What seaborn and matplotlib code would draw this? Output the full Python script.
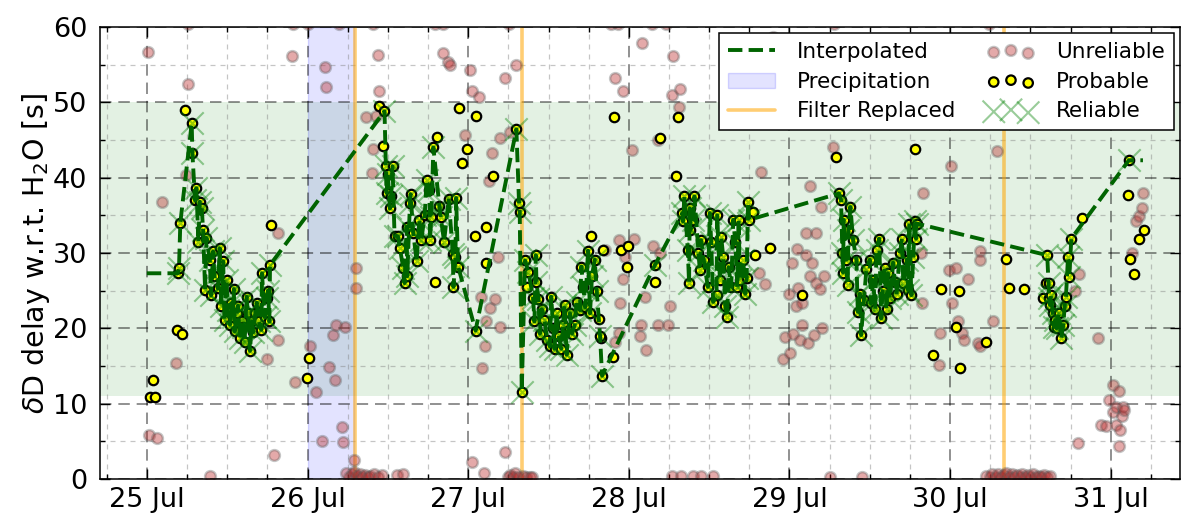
import numpy as np
import pandas as pd
import matplotlib
matplotlib.use("Agg")
import matplotlib.pyplot as plt
import matplotlib.dates as mdates
import seaborn as sns

# ---------------------------------------------------------------------------
# Data: delay of the deuterium signal relative to H2O, hours after 25 Jul 00:00
# ---------------------------------------------------------------------------
START = pd.Timestamp("2016-07-25 00:00")

reliable_hours = [
    4.6, 4.8, 5.0, 6.7, 6.8, 7.2, 7.4, 7.7, 7.9, 8.2, 8.4, 8.7, 8.9, 9.4, 9.6,
    9.9, 10.1, 10.6, 10.9, 11.1, 11.4, 11.6, 11.9, 12.1, 12.4, 12.6, 12.8, 13.0,
    13.1, 13.4, 13.6, 13.9, 14.2, 14.4, 14.6, 14.9, 15.1, 15.4, 15.7, 15.9, 16.2,
    16.4, 16.7, 17.1, 17.2, 17.6, 17.9, 18.1, 18.3, 18.4,
    35.5, 35.7, 35.8, 36.0, 36.3, 36.5, 36.7, 37.0, 37.5, 37.8, 38.3, 38.5, 38.8,
    38.9, 39.3, 39.4, 39.8, 40.3, 40.7, 41.0, 41.5, 41.8, 42.2, 42.3, 42.5, 42.8,
    43.7, 43.9, 44.4, 45.1, 45.7, 45.8, 46.1, 46.2, 46.5,
    49.1, 55.2, 55.6, 55.7, 56.0,
    56.5, 57.0, 57.7, 57.9, 58.1, 58.2, 58.5, 58.7, 59.0, 59.4, 59.8, 60.2, 60.4,
    60.7, 60.9, 61.2, 61.5, 61.9, 62.2, 62.4, 62.7, 63.0, 63.2, 63.5, 63.9, 64.2,
    64.7, 64.9, 65.2, 65.5, 65.9, 66.2, 66.5, 66.9, 67.2, 67.7, 68.0,
    75.9,
    80.0, 80.1, 80.3, 80.8, 81.0, 81.1, 81.2, 81.6, 81.8, 82.4, 82.6, 82.8, 83.2,
    83.8, 84.1, 84.3, 84.6, 85.1, 85.2, 85.6, 85.8, 86.1, 86.4, 86.7, 86.9, 87.3,
    87.6, 87.9, 88.2, 88.4, 88.6, 89.1, 89.4, 89.6, 89.8, 90.0,
    103.4, 103.7, 103.9, 104.0, 104.1, 104.4, 104.7, 104.8, 105.1, 105.5, 106.0,
    106.2, 106.5, 106.7, 107.1, 107.5, 108.0, 108.2, 108.5, 108.8, 109.0, 109.4,
    109.7, 109.9, 110.2, 110.5, 110.7, 111.0, 111.5, 111.7, 112.0, 112.5, 112.8,
    113.0, 113.5, 113.7, 113.9, 114.2, 114.5, 114.7, 114.9, 115.0,
    134.5, 134.7, 134.8, 134.9, 135.1, 135.3, 135.5, 135.7, 135.9, 136.2, 136.6,
    136.9, 137.1, 137.3, 137.6, 137.8, 138.1,
    146.7,
]
reliable_delay = [
    27.3, 28.0, 34.0, 47.2, 43.3, 37.0, 38.6, 31.5, 36.8, 36.0, 33.0, 25.1, 32.0,
    29.1, 24.4, 30.2, 26.9, 25.3, 30.6, 23.0, 28.9, 21.1, 26.4, 22.4, 20.5, 23.3,
    21.5, 25.2, 19.6, 22.0, 23.0, 18.7, 21.0, 20.2, 18.2, 24.2, 22.0, 17.0, 20.9,
    19.5, 22.0, 23.4, 21.0, 19.8, 27.3, 21.5, 24.0, 25.0, 20.9, 28.4,
    48.8, 41.5, 38.0, 40.5, 35.9, 37.5, 41.5, 32.3, 32.2, 30.6, 28.0, 26.0, 33.5,
    26.9, 36.6, 37.8, 32.6, 28.9, 34.4, 31.7, 35.0, 39.7, 38.4, 31.7, 34.8, 44.0,
    36.2, 34.8, 31.5, 37.2, 29.9, 25.5, 29.4, 37.3, 28.2,
    19.7, 46.4, 36.6, 35.5, 11.6,
    29.0, 27.5, 24.0, 20.9, 29.7, 26.2, 23.9, 19.3, 22.5, 21.1, 18.5, 17.6, 24.2,
    20.0, 17.3, 22.0, 19.0, 17.3, 20.5, 23.1, 16.5, 19.8, 22.0, 19.3, 20.4, 23.5,
    22.4, 28.2, 25.5, 22.8, 30.3, 22.0, 27.0, 29.1, 25.0, 19.0, 13.7,
    28.4,
    35.3, 34.2, 37.5, 30.4, 26.0, 35.9, 33.1, 34.4, 37.5, 30.0, 27.7, 31.7, 29.0,
    25.5, 35.3, 31.5, 23.5, 24.4, 35.0, 26.4, 32.1, 29.5, 23.0, 21.5, 28.1, 25.5,
    34.4, 31.4, 25.5, 34.4, 26.4, 29.0, 24.6, 26.7, 36.7, 34.4,
    37.9, 37.0, 30.0, 27.4, 34.4, 29.0, 25.8, 33.0, 36.1, 31.7, 29.1, 22.2, 24.6,
    19.1, 23.7, 27.9, 29.1, 23.3, 26.4, 22.5, 30.4, 31.9, 21.3, 25.0, 28.0, 22.5,
    27.3, 24.0, 28.7, 26.1, 24.5, 30.0, 31.9, 26.0, 29.1, 25.1, 33.9, 24.4, 29.5,
    34.2, 31.9, 33.9,
    29.7, 26.0, 24.0, 23.1, 24.4, 22.0, 20.2, 21.1, 20.0, 22.0, 18.7, 20.4, 22.9,
    24.2, 29.4, 26.8, 31.9,
    42.3,
]

probable_hours = [
    0.45, 0.85, 1.25, 4.5, 5.3, 5.7, 18.6, 23.85, 24.25, 34.7, 35.3, 43.0, 43.4,
    46.7, 47.1, 47.8, 49.0, 49.2, 50.7, 50.7, 51.7, 56.8, 66.4, 67.6, 67.9, 68.1,
    69.6, 69.8, 70.9, 71.7, 71.9, 75.9, 76.7, 79.0, 79.4, 90.6, 90.8, 93.1, 97.8,
    103.0, 114.7, 117.4, 118.7, 120.8, 121.3, 121.4, 125.4, 128.3, 128.8, 131.1,
    133.8, 134.3, 139.7, 146.6, 146.8, 147.5, 148.2, 148.9,
]
probable_delay = [
    10.9, 13.1, 10.9, 19.8, 19.2, 49.0, 33.7, 13.4, 16.1, 49.5, 44.2, 26.2, 45.4,
    49.2, 42.0, 43.8, 32.2, 48.2, 33.4, 28.6, 40.2, 25.5, 32.2, 21.2, 18.7, 30.4,
    16.2, 48.0, 30.4, 28.2, 30.9, 26.2, 45.2, 40.2, 48.0, 35.5, 29.7, 30.7, 24.4,
    42.8, 43.8, 16.5, 25.2, 20.2, 24.9, 14.7, 18.2, 29.2, 25.4, 25.2,
    24.0, 26.0, 34.7, 37.7, 29.2, 27.2, 31.9, 33.0,
]

unreliable_hours = [
    6.1, 21.9, 24.1, 28.7, 33.8, 43.0, 44.3, 54.1, 69.4, 70.4, 75.4, 77.6, 102.7,
    125.8,
    0.1, 0.35, 1.45, 2.2, 4.4, 5.9, 6.1, 9.4, 17.9, 19.0, 19.6, 19.6, 21.7, 22.2,
    24.4, 25.2, 26.2, 26.6, 26.7, 27.2, 27.8, 28.1, 28.2, 29.1, 29.3, 29.6, 29.8,
    31.0, 31.3, 31.3,
    30.2, 30.6, 31.0, 31.4, 31.8, 32.2, 32.6, 33.0, 33.4, 34.0, 34.6, 35.2, 37.3,
    38.2,
    32.8, 33.7, 33.8, 34.2, 34.6, 34.7, 44.2, 45.0, 45.3, 47.6, 48.2, 48.5, 48.6,
    49.6, 49.9, 50.1, 50.3, 50.5, 50.6, 51.1, 51.2, 51.6, 52.0, 52.5, 52.7, 52.8,
    53.5, 53.5, 54.3, 55.1,
    54.0, 54.2, 54.7, 55.0, 55.4, 56.2, 56.7, 57.2, 57.6,
    68.4, 69.9, 70.0, 70.5, 70.5, 70.7, 71.1, 71.2, 71.4, 72.5, 72.8, 73.7, 73.8,
    74.0, 74.4, 74.5, 75.6, 76.4, 76.4, 76.6, 77.9, 78.1, 78.4, 78.6, 79.5, 79.6,
    78.4, 79.8, 81.6, 82.8, 84.5,
    91.5, 91.8, 92.4, 93.5, 95.1, 95.3, 96.0, 96.1, 96.3, 96.5, 96.9, 97.1, 97.3,
    97.6, 97.9, 97.9, 98.4, 98.5, 98.8, 99.0, 99.0, 99.4, 99.6, 99.9, 100.0,
    100.5, 100.7, 100.9, 101.2, 102.0, 102.5, 106.9,
    115.7, 115.8, 115.9, 118.3, 118.5, 119.8, 120.2, 120.3, 120.8, 121.2, 121.8,
    122.0, 122.7, 124.2, 124.4, 124.5, 124.5, 126.4, 127.0,
    125.4, 125.9, 126.3, 126.8, 127.2, 127.6, 128.0, 128.4, 128.8, 129.2, 129.6,
    130.0, 130.4, 130.8, 131.2, 131.6, 132.0, 132.4, 132.8, 133.2, 133.6, 134.0,
    134.5, 134.9,
    138.6, 139.1, 139.2, 142.1, 142.6, 143.3, 143.8, 144.3, 144.3, 144.8, 144.8,
    145.2, 145.2, 145.4, 145.7, 145.8, 146.0, 147.1, 147.8, 148.2, 148.6, 148.8,
]
unreliable_delay = [
    60.4, 60.4, 60.4, 60.4, 60.4, 60.4, 60.4, 60.4, 60.4, 60.4, 60.4, 60.4, 60.4,
    60.4,
    56.7, 5.8, 5.5, 36.7, 15.4, 40.4, 52.4, 0.4, 15.9, 3.2, 18.4, 32.7, 56.2, 12.9,
    17.7, 11.5, 5.1, 54.7, 52.0, 14.9, 19.1, 13.1, 20.4, 6.9, 4.9, 20.2, 0.8,
    2.5, 28.0, 25.4,
    0.3, 0.6, 0.9, 0.4, 0.7, 0.3, 0.5, 0.2, 0.4, 0.6, 0.3, 0.5, 0.5,
    0.6,
    48.0, 40.6, 43.8, 48.2, 56.3, 51.5, 56.5, 55.3, 55.0, 45.7, 54.3, 2.3, 51.5,
    50.7, 24.2, 14.7, 0.8, 17.7, 20.9, 39.5, 22.7, 43.2, 23.9, 29.4, 20.2, 45.2,
    53.2, 3.6, 46.1, 55.0,
    0.3, 0.5, 0.3, 0.8, 0.2, 0.4, 0.2, 0.3, 0.2,
    30.4, 18.2, 53.2, 31.7, 19.4, 23.4, 51.5, 26.5, 29.5, 43.7, 31.9, 19.0, 20.4,
    57.9, 24.2, 17.1, 30.9, 45.0, 20.4, 30.0, 20.4, 23.0, 51.0, 56.1, 49.4, 51.7,
    0.4, 0.4, 0.4, 0.4, 0.4,
    27.4, 40.7, 25.9, 58.7, 15.9, 18.9, 24.6, 16.7, 28.7, 19.3, 23.0, 30.5, 25.3,
    18.4, 23.4, 20.4, 32.7, 29.7, 18.1, 38.9, 26.9, 28.7, 19.1, 32.7, 26.0,
    25.2, 36.1, 20.0, 26.9, 0.3, 44.0, 0.3,
    30.0, 23.4, 38.0, 15.1, 19.4, 27.8, 41.5, 23.4, 28.0, 20.9, 19.4,
    18.4, 26.6, 18.0, 17.6, 30.3, 29.0, 20.9, 43.5,
    0.4, 0.2, 0.6, 0.3, 0.7, 0.2, 0.5, 0.8, 0.3, 0.6, 0.2,
    0.5, 0.3, 0.7, 0.2, 0.5, 0.3, 0.6, 0.2, 0.4, 0.3, 0.5,
    0.2, 0.4,
    25.0, 4.8, 27.2, 18.7, 7.2, 7.0, 10.5, 12.5, 8.9, 9.6, 7.2,
    11.7, 4.4, 6.5, 8.3, 9.5, 9.2, 30.0, 34.2, 34.9, 35.9, 38.0,
]

# Interpolation covers this span (hours); the ends hold the nearest reliable value
interp_span_hours = (0.0, 148.8)

precipitation = ("2016-07-26 00:00", "2016-07-26 07:00")
filter_replaced = ["2016-07-26 07:10", "2016-07-27 08:00", "2016-07-30 08:00"]
acceptable_band = (11.0, 50.0)

x_limits = ("2016-07-24 17:00", "2016-07-31 10:20")
y_limits = (0, 60)


def to_time(hours):
    return START + pd.to_timedelta(np.asarray(hours, dtype=float), unit="h")


unreliable = pd.DataFrame({"time": to_time(unreliable_hours), "delay": unreliable_delay})
probable = pd.DataFrame({"time": to_time(probable_hours + reliable_hours),
                         "delay": probable_delay + reliable_delay})
reliable = pd.DataFrame({"time": to_time(reliable_hours), "delay": reliable_delay})
reliable = reliable.sort_values("time").reset_index(drop=True)

interp = pd.concat([
    pd.DataFrame({"time": to_time([interp_span_hours[0]]), "delay": [reliable["delay"].iloc[0]]}),
    reliable,
    pd.DataFrame({"time": to_time([interp_span_hours[1]]), "delay": [reliable["delay"].iloc[-1]]}),
], ignore_index=True)

# ---------------------------------------------------------------------------
# Style
# ---------------------------------------------------------------------------
sns.set_style("white", {
    "xtick.direction": "in", "ytick.direction": "in",
    "xtick.top": True, "ytick.right": True,
    "xtick.bottom": True, "ytick.left": True,
    "axes.edgecolor": "black",
    "text.color": "black", "axes.labelcolor": "black",
    "xtick.color": "black", "ytick.color": "black",
})
plt.rcParams["font.family"] = ["DejaVu Sans"]
plt.rcParams["mathtext.fontset"] = "dejavusans"

fig = plt.figure(figsize=(11.82, 5.15), dpi=100)
ax = fig.add_axes([0.0846, 0.070, 0.9137, 0.8777])

# Background: acceptable range, rain period, filter changes
ax.axhspan(*acceptable_band, color="green", alpha=0.11, lw=0, zorder=0)
precip_patch = ax.axvspan(pd.Timestamp(precipitation[0]), pd.Timestamp(precipitation[1]),
                          facecolor=(0.0, 0.0, 1.0, 0.11), edgecolor=(0.0, 0.0, 1.0, 0.15),
                          lw=1, zorder=0.5, label="Precipitation")
filter_lines = []
for t in filter_replaced:
    filter_lines.append(ax.axvline(pd.Timestamp(t), color="orange", alpha=0.55, lw=2.6,
                                   zorder=1.5, label="Filter Replaced"))

# Points
sns.scatterplot(data=unreliable, x="time", y="delay", ax=ax, s=60,
                facecolor=(0.72, 0.12, 0.12, 0.38), edgecolor=(0.35, 0.35, 0.35, 0.35),
                linewidth=1.8, zorder=2, label="Unreliable", legend=False)
unrel_handle = ax.collections[-1]
sns.scatterplot(data=probable, x="time", y="delay", ax=ax, s=46, color="yellow",
                edgecolor="black", linewidth=1.6, zorder=3, label="Probable", legend=False)
prob_handle = ax.collections[-1]
sns.scatterplot(data=reliable, x="time", y="delay", ax=ax, s=260, marker="x",
                color="green", linewidth=1.5, alpha=0.4, zorder=4,
                label="Reliable", legend=False)
rel_handle = ax.collections[-1]

sns.lineplot(data=interp, x="time", y="delay", ax=ax, estimator=None, sort=False,
             color="darkgreen", lw=2.8, linestyle="--", zorder=5,
             label="Interpolated", legend=False)
interp_handle = ax.lines[-1]

# Axes
ax.set_xlim(pd.Timestamp(x_limits[0]), pd.Timestamp(x_limits[1]))
ax.set_ylim(*y_limits)
ax.xaxis.set_major_locator(mdates.DayLocator())
ax.xaxis.set_minor_locator(mdates.HourLocator(byhour=[6, 12, 18]))
ax.xaxis.set_major_formatter(mdates.DateFormatter("%d %b"))
ax.set_yticks(np.arange(0, 61, 10))
ax.set_yticks(np.arange(5, 60, 10), minor=True)

ax.tick_params(which="major", length=7, width=1, labelsize=19.5, pad=6,
               color="black", labelcolor="black")
ax.tick_params(axis="y", which="major", pad=9)
ax.tick_params(which="minor", length=3.5, width=1, color="black")
ax.set_xlabel("")
ax.set_ylabel(r"$\delta$D delay w.r.t. H$_2$O [s]", fontsize=20.5, labelpad=1, color="black")

ax.grid(which="major", color="black", alpha=0.55, lw=1.1, linestyle=(0, (7.5, 4.5)), zorder=1)
ax.grid(which="minor", color="gray", alpha=0.45, lw=0.9, linestyle=(0, (4.0, 4.0)), zorder=1)
ax.set_axisbelow(True)
for sp in ax.spines.values():
    sp.set_linewidth(1.1)
    sp.set_color("black")

leg = ax.legend([interp_handle, precip_patch, filter_lines[0], unrel_handle, prob_handle, rel_handle],
                ["Interpolated", "Precipitation", "Filter Replaced", "Unreliable", "Probable", "Reliable"],
                loc="upper right", ncol=2, fontsize=15.5, frameon=True, fancybox=False,
                framealpha=1, edgecolor="black", scatterpoints=3, handlelength=2.2,
                handletextpad=1.0, columnspacing=1.5, borderaxespad=0.3,
                labelspacing=0.45, borderpad=0.4, labelcolor="black")
leg.get_frame().set_linewidth(1.1)
leg.set_zorder(10)

fig.savefig("out.png", dpi=100)
